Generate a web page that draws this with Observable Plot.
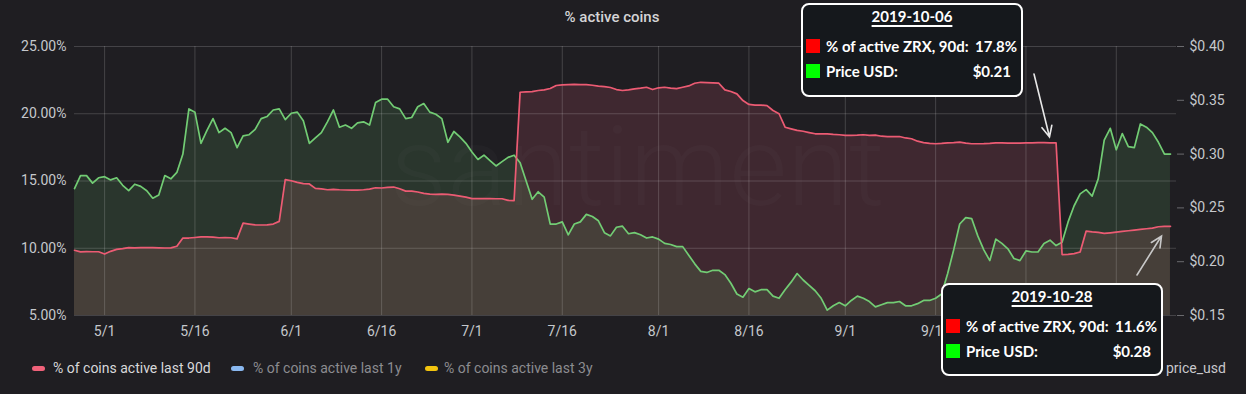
<!DOCTYPE html>
<html><head><meta charset="utf-8">
<script src="https://cdn.jsdelivr.net/npm/d3@7"></script>
<script src="https://cdn.jsdelivr.net/npm/@observablehq/plot@0.6"></script>
<style>
html,body{margin:0;padding:0;background:#1f1e22;}
#wrap{position:relative;width:1246px;height:394px;overflow:hidden;font-family:Roboto,sans-serif;background:#1f1e22;}
#title{position:absolute;left:0;top:0;width:1224px;height:34px;line-height:34px;text-align:center;color:#d4d4d6;font-size:15px;font-weight:500;}
#chart{position:absolute;left:0;top:30px;}
.leg{position:absolute;top:358px;height:20px;line-height:20px;font-size:14px;white-space:nowrap;}
.sw{position:absolute;width:13px;height:5px;border-radius:3px;top:366px;}
.tip{position:absolute;box-sizing:border-box;border:2px solid #fff;border-radius:8px;background:#15181c;color:#fff;font-family:Lato,sans-serif;font-weight:700;font-size:15px;}
.tip div{position:absolute;white-space:nowrap;line-height:20px;height:20px;}
.tip .t{left:0;right:0;text-align:center;}
.tip .t span{text-decoration:underline;text-decoration-thickness:2px;text-underline-offset:3px;}
.tip .q{width:14px;height:14px;left:3px;}
#arrows{position:absolute;left:0;top:0;}
</style></head>
<body><div id="wrap">
<div id="title"></div>
<div id="chart"></div>
<div id="legend"></div>
<svg id="arrows" width="1246" height="394"></svg>
<div id="tips"></div>
</div>
<script>
// ---- data ----
const titleText = "% active coins";
const startDate = "2019-04-26"; // one value per day
const active90d = [
 9.85,9.73,9.75,9.74,9.74,9.57,9.77,9.92,9.97,10.05,
 10.03,10.05,10.04,10.04,10.03,10.02,10.03,10.15,10.76,10.76,
 10.80,10.85,10.85,10.83,10.78,10.80,10.78,10.70,11.87,11.80,
 11.74,11.73,11.74,11.80,12.00,15.10,15.02,14.90,14.80,14.78,
 14.45,14.42,14.35,14.38,14.35,14.33,14.32,14.32,14.35,14.40,
 14.50,14.48,14.52,14.55,14.42,14.25,14.25,14.18,14.08,14.03,
 14.00,14.02,14.00,13.95,13.88,13.80,13.69,13.69,13.69,13.69,
 13.68,13.68,13.56,13.54,21.60,21.63,21.65,21.73,21.78,21.88,
 22.10,22.15,22.17,22.19,22.17,22.17,22.12,22.05,22.02,21.95,
 21.80,21.73,21.78,21.85,21.90,21.97,21.80,21.93,21.97,21.90,
 21.87,21.97,22.07,22.27,22.34,22.32,22.30,22.27,21.78,21.65,
 21.48,20.98,20.69,20.64,20.64,20.61,20.24,20.00,19.00,18.88,
 18.76,18.70,18.60,18.51,18.51,18.51,18.46,18.44,18.39,18.39,
 18.41,18.44,18.39,18.41,18.33,18.30,18.30,18.31,18.20,18.14,
 17.96,17.85,17.80,17.77,17.80,17.84,17.86,17.89,17.82,17.77,
 17.77,17.78,17.80,17.84,17.83,17.82,17.82,17.82,17.83,17.84,
 17.86,17.85,17.84,17.84,9.53,9.55,9.60,9.72,11.28,11.22,
 11.18,11.10,11.15,11.20,11.25,11.30,11.35,11.40,11.45,11.50,
 11.60,11.63,11.63
];
const priceUsd = [
 0.268,0.280,0.280,0.273,0.278,0.279,0.276,0.278,0.271,0.266,
 0.272,0.270,0.266,0.259,0.262,0.280,0.277,0.283,0.300,0.342,
 0.339,0.310,0.322,0.333,0.320,0.324,0.320,0.306,0.317,0.318,
 0.323,0.333,0.335,0.341,0.342,0.332,0.338,0.339,0.331,0.310,
 0.315,0.320,0.330,0.341,0.325,0.327,0.324,0.329,0.330,0.327,
 0.348,0.351,0.351,0.344,0.342,0.333,0.334,0.344,0.347,0.339,
 0.337,0.333,0.311,0.321,0.316,0.310,0.302,0.295,0.299,0.294,
 0.289,0.293,0.297,0.299,0.292,0.275,0.258,0.265,0.260,0.235,
 0.235,0.237,0.225,0.235,0.237,0.244,0.242,0.238,0.227,0.224,
 0.232,0.233,0.226,0.227,0.225,0.222,0.223,0.221,0.217,0.216,
 0.214,0.214,0.206,0.198,0.191,0.190,0.192,0.192,0.188,0.180,
 0.170,0.167,0.175,0.172,0.174,0.174,0.168,0.166,0.174,0.181,
 0.189,0.183,0.178,0.173,0.166,0.155,0.159,0.162,0.159,0.164,
 0.168,0.166,0.163,0.158,0.160,0.162,0.162,0.163,0.159,0.159,
 0.161,0.164,0.164,0.166,0.170,0.189,0.211,0.235,0.241,0.240,
 0.224,0.211,0.201,0.221,0.217,0.212,0.203,0.201,0.210,0.209,
 0.209,0.217,0.220,0.215,0.218,0.237,0.252,0.263,0.267,0.261,
 0.277,0.313,0.324,0.304,0.319,0.307,0.306,0.328,0.325,0.320,
 0.311,0.300,0.300
];
// grid lines at all of these; the last two labels sit under the annotation box in the reference
const xTickDates = ["2019-05-01","2019-05-16","2019-06-01","2019-06-16","2019-07-01","2019-07-16",
                    "2019-08-01","2019-08-16","2019-09-01","2019-09-16","2019-10-01","2019-10-16"];
const xLabelDates = ["2019-05-01","2019-05-16","2019-06-01","2019-06-16","2019-07-01","2019-07-16",
                     "2019-08-01","2019-08-16","2019-09-01","2019-09-16"];
const pctTicks = [5, 10, 15, 20, 25];
const priceTicks = [0.15, 0.20, 0.25, 0.30, 0.35, 0.40];
const legendItems = ["% of coins active last 90d", "% of coins active last 1y", "% of coins active last 3y", "price_usd"];
const watermark = "santiment";
const tooltips = [
  {date: "2019-10-06", label1: "% of active ZRX, 90d:", value1: "17.8%", label2: "Price USD:", value2: "$0.21"},
  {date: "2019-10-28", label1: "% of active ZRX, 90d:", value1: "11.6%", label2: "Price USD:", value2: "$0.28"}
];

// ---- build ----
const start = new Date(startDate + "T00:00:00Z");
const rows = active90d.map((v, i) => ({date: d3.utcDay.offset(start, i), pct: v, price: priceUsd[i]}));
const endDate = d3.utcDay.offset(start, active90d.length);
// price axis (right) shares the plot's y range: $0.15..$0.40  <->  5%..25%
const priceToPct = p => 5 + (p - 0.15) * 80;
const pctToPrice = v => 0.15 + (v - 5) / 80;
const toDate = s => new Date(s + "T00:00:00Z");
const tickDates = xTickDates.map(toDate);
const labelDates = xLabelDates.map(toDate);

const RED = "#ec5b73", GREEN = "#72cc74";

const chart = Plot.plot({
  width: 1246, height: 325,
  marginLeft: 74, marginRight: 70, marginTop: 16, marginBottom: 40,
  x: {type: "utc", domain: [start, endDate]},
  y: {domain: [5, 25]},
  style: {background: "transparent", color: "#c5c8cc", fontFamily: "Roboto, sans-serif", fontSize: "14px", overflow: "visible"},
  marks: [
    Plot.areaY(rows, {x: "date", y1: 5, y2: "pct", fill: "#e8607a", fillOpacity: 0.16}),
    Plot.areaY(rows, {x: "date", y1: 5, y2: d => priceToPct(d.price), fill: "#6fcf72", fillOpacity: 0.14}),
    Plot.gridY(pctTicks, {stroke: "#ffffff", strokeOpacity: 0.17, strokeWidth: 1}),
    Plot.gridX(tickDates, {stroke: "#ffffff", strokeOpacity: 0.17, strokeWidth: 1}),
    Plot.text([watermark], {frameAnchor: "middle", dx: 12, dy: -12, fontSize: 112, fontWeight: 300, fill: "#ffffff", fillOpacity: 0.018}),
    Plot.line(rows, {x: "date", y: d => priceToPct(d.price), stroke: GREEN, strokeWidth: 1.7}),
    Plot.line(rows, {x: "date", y: "pct", stroke: RED, strokeWidth: 1.7}),
    Plot.axisY(pctTicks, {anchor: "left", tickSize: 0, tickPadding: 8, label: null, tickFormat: d => d.toFixed(2) + "%"}),
    Plot.axisY(priceTicks.map(priceToPct), {anchor: "right", tickSize: 7, tickPadding: 6, label: null, stroke: "#6a6a6e",
      tickFormat: d => "$" + pctToPrice(d).toFixed(2)}),
    Plot.axisX(labelDates, {tickSize: 0, tickPadding: 11, label: null,
      tickFormat: d => (d.getUTCMonth() + 1) + "/" + d.getUTCDate()})
  ]
});
document.getElementById("chart").appendChild(chart);
document.getElementById("title").textContent = titleText;

// ---- legend ----
const legendPos = [
  {sw: 32, tx: 53, color: "#f0627a", text: "#d8d8da"},
  {sw: 231, tx: 253, color: "#8ab8f0", text: "#8c8c90"},
  {sw: 425, tx: 444, color: "#f2c40f", text: "#8c8c90"},
  {sw: 1150, tx: 1166, color: GREEN, text: "#c8c8cc"}
];
const leg = document.getElementById("legend");
legendItems.forEach((name, i) => {
  const p = legendPos[i];
  const s = document.createElement("div"); s.className = "sw"; s.style.left = p.sw + "px"; s.style.background = p.color; leg.appendChild(s);
  const t = document.createElement("div"); t.className = "leg"; t.style.left = p.tx + "px"; t.style.color = p.text; t.textContent = name; leg.appendChild(t);
});

// ---- annotation boxes ----
const boxPos = [{left: 801, top: 3, h: 94}, {left: 941, top: 283, h: 93}];
const tips = document.getElementById("tips");
tooltips.forEach((tp, i) => {
  const b = document.createElement("div"); b.className = "tip";
  Object.assign(b.style, {left: boxPos[i].left + "px", top: boxPos[i].top + "px", width: "222px", height: boxPos[i].h + "px"});
  b.innerHTML =
    `<div class="t" style="top:1px"><span>${tp.date}</span></div>` +
    `<div class="q" style="top:34px;background:#ff0000"></div>` +
    `<div style="left:23px;top:31px">${tp.label1}</div>` +
    `<div style="right:4px;top:31px">${tp.value1}</div>` +
    `<div class="q" style="top:59px;background:#00ff00"></div>` +
    `<div style="left:23px;top:56px">${tp.label2}</div>` +
    `<div style="right:10px;top:56px">${tp.value2}</div>`;
  tips.appendChild(b);
});

// ---- annotation arrows ----
const arrows = [
  {x1: 1034, y1: 74, x2: 1049.5, y2: 137, c: "#e8e8e8"},
  {x1: 1137, y1: 275, x2: 1161.5, y2: 236, c: "#c8c8c8"}
];
const svg = d3.select("#arrows");
arrows.forEach(a => {
  const ang = Math.atan2(a.y1 - a.y2, a.x1 - a.x2), L = 12, w = 25 * Math.PI / 180;
  const p1 = [a.x2 + L * Math.cos(ang + w), a.y2 + L * Math.sin(ang + w)];
  const p2 = [a.x2 + L * Math.cos(ang - w), a.y2 + L * Math.sin(ang - w)];
  svg.append("path").attr("fill", "none").attr("stroke", a.c).attr("stroke-width", 1.6).attr("stroke-linecap", "round")
    .attr("d", `M${a.x1},${a.y1}L${a.x2},${a.y2}M${p1[0]},${p1[1]}L${a.x2},${a.y2}L${p2[0]},${p2[1]}`);
});
</script>
</body></html>
